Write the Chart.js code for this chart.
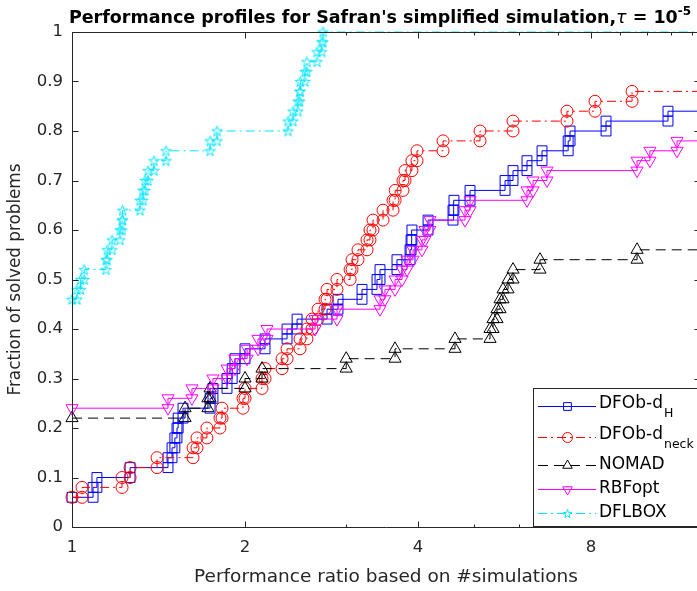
<!DOCTYPE html>
<html>
<head>
<meta charset="utf-8">
<script src="https://cdn.jsdelivr.net/npm/chart.js@4.4.1/dist/chart.umd.min.js"></script>
<style>
  html, body { margin: 0; padding: 0; background: #fff; overflow: hidden; }
  #wrap { width: 697px; height: 591px; overflow: hidden; }
  canvas { display: block; }
</style>
</head>
<body>
<div id="wrap"><canvas id="perf" width="774" height="591"></canvas></div>
<script>
// ── Data: performance ratio (x) and fraction of solved problems (y) ─────────
const X_MIN = 1;
const X_MAX = 12.38;
const xTickValues = [1, 2, 4, 8];
const xMinorTicks = [3, 5, 6, 7, 9, 10, 11, 12];

const dfobHRatio = [1.00, 1.088, 1.105, 1.262, 1.469, 1.493, 1.51, 1.523, 1.53, 1.56,
    1.739, 1.759, 1.861, 1.90, 1.921, 2.00, 2.167, 2.367, 2.464, 2.778,
    2.903, 3.196, 3.394, 3.435, 3.677, 3.874, 3.89, 3.904, 4.164, 4.602,
    4.62, 4.927, 5.669, 5.853, 6.19, 6.574, 7.30, 7.355, 8.496, 10.89];
const dfobHFrac = [0.06, 0.08, 0.10, 0.12, 0.14, 0.16, 0.18, 0.20, 0.22, 0.24,
    0.26, 0.28, 0.30, 0.32, 0.34, 0.36, 0.38, 0.40, 0.42, 0.44,
    0.46, 0.48, 0.50, 0.52, 0.54, 0.56, 0.58, 0.60, 0.62, 0.64,
    0.66, 0.68, 0.70, 0.72, 0.74, 0.76, 0.78, 0.80, 0.82, 0.84];

const dfobNeckRatio = [1.00, 1.041, 1.222, 1.262, 1.406, 1.624, 1.650, 1.717, 1.809, 1.824,
    1.984, 2.00, 2.141, 2.167, 2.320, 2.367, 2.493, 2.563, 2.616, 2.680,
    2.756, 2.778, 2.891, 3.047, 3.071, 3.145, 3.261, 3.300, 3.340, 3.477,
    3.619, 3.650, 3.766, 3.797, 3.904, 3.984, 4.422, 5.128, 5.853, 7.266,
    8.129, 9.43];
const dfobNeckFrac = [0.06, 0.08, 0.10, 0.12, 0.14, 0.16, 0.18, 0.20, 0.22, 0.24,
    0.26, 0.28, 0.30, 0.32, 0.34, 0.36, 0.38, 0.40, 0.42, 0.44,
    0.46, 0.48, 0.50, 0.52, 0.54, 0.56, 0.58, 0.60, 0.62, 0.64,
    0.66, 0.68, 0.70, 0.72, 0.74, 0.76, 0.78, 0.80, 0.82, 0.84,
    0.86, 0.88];

const nomadRatio = [1.00, 1.573, 1.724, 1.739, 2.00, 2.141, 3.00, 3.648, 4.639, 5.338,
    5.403, 5.489, 5.556, 5.623, 5.737, 5.853, 6.521, 9.62];
const nomadFrac = [0.22, 0.24, 0.26, 0.28, 0.30, 0.32, 0.34, 0.36, 0.38, 0.40,
    0.42, 0.44, 0.46, 0.48, 0.50, 0.52, 0.54, 0.56];

const rbfoptRatio = [1.00, 1.469, 1.617, 1.759, 1.861, 1.921, 2.017, 2.107, 2.184, 2.648,
    2.891, 3.435, 3.504, 3.648, 3.752, 3.828, 3.921, 4.064, 4.113, 4.195,
    4.829, 4.927, 6.190, 6.341, 6.706, 9.62, 10.13, 11.29];
const rbfoptFrac = [0.24, 0.26, 0.28, 0.30, 0.32, 0.34, 0.36, 0.38, 0.40, 0.42,
    0.44, 0.46, 0.48, 0.50, 0.52, 0.54, 0.56, 0.58, 0.60, 0.62,
    0.64, 0.66, 0.68, 0.70, 0.72, 0.74, 0.76, 0.78];

const dflboxRatio = [1.00, 1.02, 1.035, 1.05, 1.146, 1.151, 1.174, 1.212, 1.222, 1.225,
    1.313, 1.329, 1.340, 1.356, 1.389, 1.457, 1.739, 1.788, 2.376, 2.424,
    2.473, 2.49, 2.495, 2.543, 2.563, 2.669, 2.72, 2.734];
const dflboxFrac = [0.46, 0.48, 0.50, 0.52, 0.54, 0.56, 0.58, 0.60, 0.62, 0.64,
    0.66, 0.68, 0.70, 0.72, 0.74, 0.76, 0.78, 0.80, 0.82, 0.84,
    0.86, 0.88, 0.90, 0.92, 0.94, 0.96, 0.98, 1.00];

// ── Styling ──────────────────────────────────────────────────────────────────
const FONT = '"DejaVu Sans", "Liberation Sans", sans-serif';
const AXIS = '#262626';
const DASH_DOT = [9, 4, 2, 4];
const DASHED = [10, 6];

function makeStar(size, color) {
    const c = document.createElement('canvas');
    c.width = c.height = size;
    const g = c.getContext('2d');
    const cx = size / 2, cy = size / 2 + 0.5, R = size / 2 - 1, r = R * 0.4;
    g.beginPath();
    for (let i = 0; i < 10; i++) {
        const a = -Math.PI / 2 + i * Math.PI / 5;
        const rad = i % 2 ? r : R;
        g.lineTo(cx + rad * Math.cos(a), cy + rad * Math.sin(a));
    }
    g.closePath();
    g.strokeStyle = color;
    g.lineWidth = 1;
    g.stroke();
    return c;
}

// stairs with a marker on both corners of every jump, like MATLAB's stairs()
function stairs(xs, ys) {
    const pts = [{ x: xs[0], y: ys[0] }];
    for (let i = 1; i < xs.length; i++) {
        pts.push({ x: xs[i], y: ys[i - 1] });
        pts.push({ x: xs[i], y: ys[i] });
    }
    pts.push({ x: X_MAX, y: ys[ys.length - 1] });
    return pts;
}

function series(label, xs, ys, color, dash, pointStyle, radius, order, extra = {}) {
    return Object.assign({
        label,
        data: stairs(xs, ys),
        borderColor: color,
        borderWidth: 1,
        borderDash: dash,
        pointStyle,
        pointRadius: ctx => ctx.dataIndex === ctx.dataset.data.length - 1 ? 0 : radius,
        pointBorderColor: color,
        pointBackgroundColor: 'rgba(0,0,0,0)',
        pointBorderWidth: 1,
        fill: false,
        tension: 0,
        clip: false,
        order,
    }, extra);
}

const starImg = makeStar(13, '#00e5ff');

const datasets = [
    series('DFOb-d|H', dfobHRatio, dfobHFrac, '#0000ff', [], 'rect', 7, 5),
    series('DFOb-d|neck', dfobNeckRatio, dfobNeckFrac, '#ff0000', DASH_DOT, 'circle', 6, 4),
    series('NOMAD', nomadRatio, nomadFrac, '#000000', DASHED, 'triangle', 7, 3),
    series('RBFopt', rbfoptRatio, rbfoptFrac, '#ff00ff', [], 'triangle', 7, 2, { pointRotation: 180 }),
    series('DFLBOX', dflboxRatio, dflboxFrac, '#00e5ff', DASH_DOT, starImg, 7, 1),
];

// ── Plugins: MATLAB-like box, title with superscript, legend with subscripts ──
const matlabBox = {
    id: 'matlabBox',
    afterDatasetsDraw(chart) {
        const { ctx, chartArea: a, scales } = chart;
        ctx.save();
        ctx.strokeStyle = AXIS;
        ctx.lineWidth = 1;
        ctx.beginPath();
        const L = Math.round(a.left) + 0.5, R = Math.round(a.right) + 0.5;
        const T = Math.round(a.top) + 0.5, B = Math.round(a.bottom) + 0.5;
        ctx.rect(L, T, R - L, B - T);
        scales.y.ticks.forEach(t => {
            const y = Math.round(scales.y.getPixelForValue(t.value)) + 0.5;
            ctx.moveTo(L, y); ctx.lineTo(L + 6, y);
            ctx.moveTo(R, y); ctx.lineTo(R - 6, y);
        });
        xTickValues.forEach(v => {
            const x = Math.round(scales.x.getPixelForValue(v)) + 0.5;
            ctx.moveTo(x, B); ctx.lineTo(x, B - 6);
            ctx.moveTo(x, T); ctx.lineTo(x, T + 6);
        });
        xMinorTicks.forEach(v => {
            const x = Math.round(scales.x.getPixelForValue(v)) + 0.5;
            ctx.moveTo(x, B); ctx.lineTo(x, B - 3);
            ctx.moveTo(x, T); ctx.lineTo(x, T + 3);
        });
        ctx.stroke();
        ctx.restore();
    }
};

const titleWithExp = {
    id: 'titleWithExp',
    afterDraw(chart) {
        const ctx = chart.ctx;
        const parts = [
            { t: "Performance profiles for Safran's simplified simulation,", f: `bold 17.5px ${FONT}`, dy: 0 },
            { t: 'τ', f: `italic 17.5px ${FONT}`, dy: 0 },
            { t: ' = 10', f: `bold 17.5px ${FONT}`, dy: 0 },
            { t: '-5', f: `bold 12px ${FONT}`, dy: -8 },
        ];
        ctx.save();
        ctx.fillStyle = '#000';
        ctx.textBaseline = 'alphabetic';
        let w = 0;
        parts.forEach(p => { ctx.font = p.f; w += ctx.measureText(p.t).width; });
        let x = 380 - w / 2;
        parts.forEach(p => {
            ctx.font = p.f;
            ctx.fillText(p.t, x, 23 + p.dy);
            x += ctx.measureText(p.t).width;
        });
        ctx.restore();
    }
};

const legendRows = [406, 437, 465, 489, 513];
const subLegend = {
    id: 'subLegend',
    afterDraw(chart) {
        const ctx = chart.ctx;
        ctx.save();
        ctx.fillStyle = '#fff';
        ctx.strokeStyle = AXIS;
        ctx.lineWidth = 1;
        ctx.fillRect(533.5, 388.5, 200, 138);
        ctx.strokeRect(533.5, 388.5, 200, 138);
        chart.data.datasets.forEach((ds, i) => {
            const y = legendRows[i] + 0.5;
            ctx.strokeStyle = ds.borderColor;
            ctx.setLineDash(ds.borderDash);
            ctx.beginPath();
            ctx.moveTo(538, y); ctx.lineTo(596, y);
            ctx.stroke();
            ctx.setLineDash([]);
            ctx.fillStyle = 'rgba(0,0,0,0)';
            Chart.helpers.drawPoint(ctx, {
                pointStyle: ds.pointStyle === starImg ? makeStar(11, ds.borderColor) : ds.pointStyle,
                rotation: ds.pointRotation || 0,
                radius: ds.pointStyle === 'circle' ? 5 : 5.5,
                borderWidth: 1,
            }, 567.5, y);
            const [main, sub] = ds.label.split('|');
            ctx.fillStyle = '#000';
            ctx.font = `17px ${FONT}`;
            ctx.textBaseline = 'middle';
            ctx.fillText(main, 599, legendRows[i] - (sub ? 2 : 0));
            if (sub) {
                const w = ctx.measureText(main).width;
                ctx.font = `12.5px ${FONT}`;
                ctx.fillText(sub, 599 + w + 1, legendRows[i] + 8);
            }
        });
        ctx.restore();
    }
};

// ── Chart ────────────────────────────────────────────────────────────────────
const chart = new Chart(document.getElementById('perf').getContext('2d'), {
    type: 'line',
    data: { datasets },
    options: {
        responsive: false,
        animation: false,
        events: [],
        layout: { padding: { top: 32, right: 74, left: 0, bottom: 0 } },
        plugins: { legend: { display: false }, title: { display: false }, tooltip: { enabled: false } },
        scales: {
            x: {
                type: 'logarithmic',
                min: X_MIN,
                max: X_MAX,
                grid: { display: false, drawTicks: false },
                border: { display: false },
                afterBuildTicks: s => { s.ticks = xTickValues.map(v => ({ value: v })); },
                afterFit: s => { s.height = 64; },
                ticks: {
                    callback: v => String(v),
                    color: AXIS,
                    font: { family: FONT, size: 16.5 },
                    padding: 11,
                    maxRotation: 0,
                    autoSkip: false,
                },
                title: {
                    display: true,
                    text: 'Performance ratio based on #simulations',
                    color: AXIS,
                    font: { family: FONT, size: 18.5 },
                    padding: { top: 0, bottom: 3 },
                },
            },
            y: {
                min: 0,
                max: 1,
                grid: { display: false, drawTicks: false },
                border: { display: false },
                afterFit: s => { s.width = 72; },
                ticks: {
                    stepSize: 0.1,
                    callback: v => String(Math.round(v * 10) / 10),
                    color: AXIS,
                    font: { family: FONT, size: 16.5 },
                    padding: 9,
                },
                title: {
                    display: true,
                    text: 'Fraction of solved problems',
                    color: AXIS,
                    font: { family: FONT, size: 16.8 },
                    padding: { top: 6, bottom: 0 },
                },
            },
        },
    },
    plugins: [matlabBox, titleWithExp, subLegend],
});
</script>
</body>
</html>
